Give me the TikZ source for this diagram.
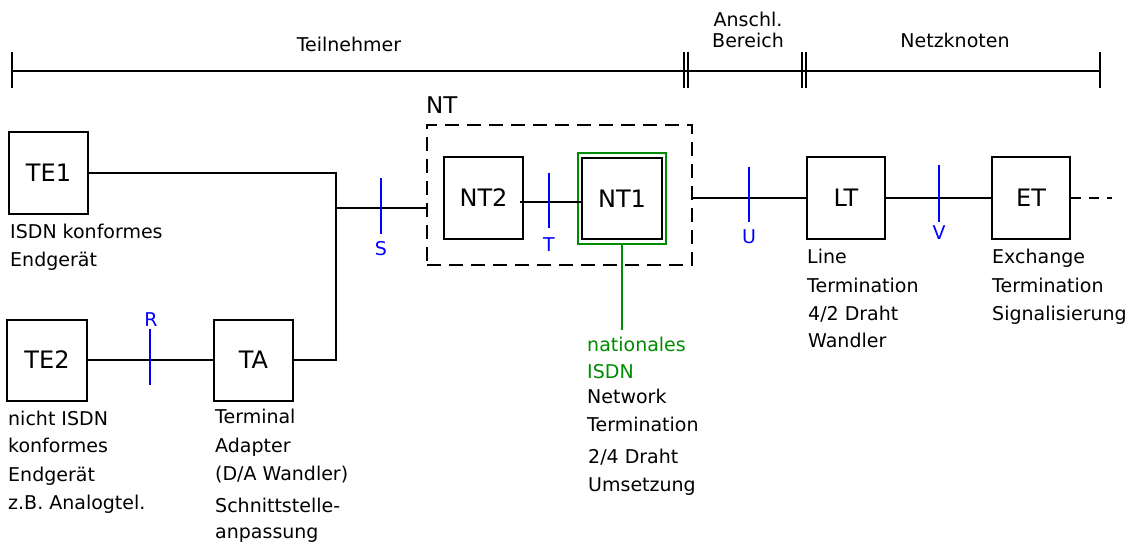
\documentclass[tikz,border=0pt]{standalone}
\usepackage{fontspec}
\setmainfont{DejaVu Sans}
\definecolor{ifblue}{RGB}{0,0,255}
\definecolor{ifgreen}{RGB}{0,140,0}
\begin{document}
\begin{tikzpicture}[x=1pt,y=-1pt,
  box/.style={draw, line width=2pt, inner sep=0pt, font=\fontsize{24}{28}\selectfont},
  wire/.style={line width=1.8pt},
  bar/.style={line width=2pt},
  tick/.style={ifblue, line width=2pt},
  tlab/.style={ifblue, inner sep=0pt, font=\fontsize{19}{22}\selectfont},
  txt/.style={anchor=base west, inner sep=0pt, font=\fontsize{19}{22}\selectfont},
  ctxt/.style={anchor=base, inner sep=0pt, font=\fontsize{19}{22}\selectfont}]
\useasboundingbox (0,0) rectangle (1131,545);
\fill[white] (0,0) rectangle (1131,545);

% ---- top scale bar
\coordinate (b0) at (12,71);
\coordinate (b1a) at (684,71);
\coordinate (b1b) at (688,71);
\coordinate (b2a) at (802,71);
\coordinate (b2b) at (806,71);
\coordinate (b3) at (1100,71);
\draw[bar] (b0) -- (b3);
\foreach \c in {b0,b1a,b1b,b2a,b2b,b3} \draw[bar] ([yshift=19pt]\c) -- ([yshift=-17pt]\c);
\node[ctxt] (lTeil) at (349,52) {Teilnehmer};
\node[ctxt] (lAn1) at (748,27) {Anschl.};
\node[ctxt] (lAn2) at (748,48) {Bereich};
\node[ctxt] (lNetz) at (955,48) {Netzknoten};

% ---- NT dashed box
\node[draw, line width=2pt, dash pattern=on 14pt off 8pt, minimum width=265pt, minimum height=140pt, inner sep=0pt] (NTbox) at (559.5,195) {};
\node[anchor=base west, inner sep=0pt, font=\fontsize{23}{26}\selectfont] (lNT) at (426,114) {NT};

% ---- boxes
\node[box, minimum width=79pt, minimum height=82pt] (TE1) at (48.5,173) {TE1};
\node[box, minimum width=80pt, minimum height=81pt] (TE2) at (47,360) {TE2};
\node[box, minimum width=79pt, minimum height=81pt] (TA) at (253.5,360) {TA};
\node[box, minimum width=79pt, minimum height=82pt] (NT2) at (483.5,198) {NT2};
\node[draw=ifgreen, line width=1.5pt, minimum width=88pt, minimum height=91pt, inner sep=0pt] (NT1g) at (622,198.5) {};
\node[box, minimum width=80pt, minimum height=81pt] (NT1) at (622,198.5) {NT1};
\node[box, minimum width=78pt, minimum height=82pt] (LT) at (846,198) {LT};
\node[box, minimum width=78pt, minimum height=82pt] (ET) at (1031,198) {ET};

% ---- connectors
\coordinate (J) at (336,360);
\coordinate (Sj) at (336,208);
\coordinate (Tj) at (520,202);
\coordinate (Nend) at (622,330);
\coordinate (Eend) at (1112,198);
\draw[wire] (TE1.east) -| (J) -- (TA.east);
\draw[wire] (Sj) -- (Sj -| NTbox.west);
\draw[wire] (TE2.east) -- (TA.west);
\draw[wire] (Tj) -- (Tj -| NT1.west);
\draw[wire] (NTbox.east |- LT.west) -- (LT.west);
\draw[wire] (LT.east) -- (ET.west);
\draw[wire, dash pattern=on 10pt off 8pt] (ET.east) -- (Eend);
\draw[ifgreen, line width=1.8pt] (NT1g.south) -- (Nend);

% ---- reference point ticks
\draw[tick] (150,329) -- (150,385);
\draw[tick] (381,178) -- (381,234);
\draw[tick] (549,173) -- (549,228);
\draw[tick] (749,167) -- (749,222);
\draw[tick] (939,165) -- (939,222);
\node[tlab] (lR) at (151,320) {R};
\node[tlab] (lS) at (381,249) {S};
\node[tlab] (lT) at (549,245) {T};
\node[tlab] (lU) at (749,237) {U};
\node[tlab] (lV) at (939,233) {V};

% ---- descriptions
\node[txt] (d1a) at (10,238) {ISDN konformes};
\node[txt] (d1b) at (10,266) {Endgerät};
\node[txt] (d2a) at (8,425) {nicht ISDN};
\node[txt] (d2b) at (8,452) {konformes};
\node[txt] (d2c) at (8,481) {Endgerät};
\node[txt] (d2d) at (8,509) {z.B. Analogtel.};
\node[txt] (d3a) at (215,423) {Terminal};
\node[txt] (d3b) at (215,452) {Adapter};
\node[txt] (d3c) at (215,480) {(D/A Wandler)};
\node[txt] (d3d) at (215,512) {Schnittstelle-};
\node[txt] (d3e) at (215,538) {anpassung};
\node[txt, ifgreen] (d4a) at (587,351) {nationales};
\node[txt, ifgreen] (d4b) at (587,378) {ISDN};
\node[txt] (d4c) at (587,403) {Network};
\node[txt] (d4d) at (587,431) {Termination};
\node[txt] (d4e) at (588,463) {2/4 Draht};
\node[txt] (d4f) at (588,491) {Umsetzung};
\node[txt] (d5a) at (807,263) {Line};
\node[txt] (d5b) at (807,292) {Termination};
\node[txt] (d5c) at (808,320) {4/2 Draht};
\node[txt] (d5d) at (808,347) {Wandler};
\node[txt] (d6a) at (992,263) {Exchange};
\node[txt] (d6b) at (992,292) {Termination};
\node[txt] (d6c) at (992,320) {Signalisierung};
\end{tikzpicture}
\end{document}
